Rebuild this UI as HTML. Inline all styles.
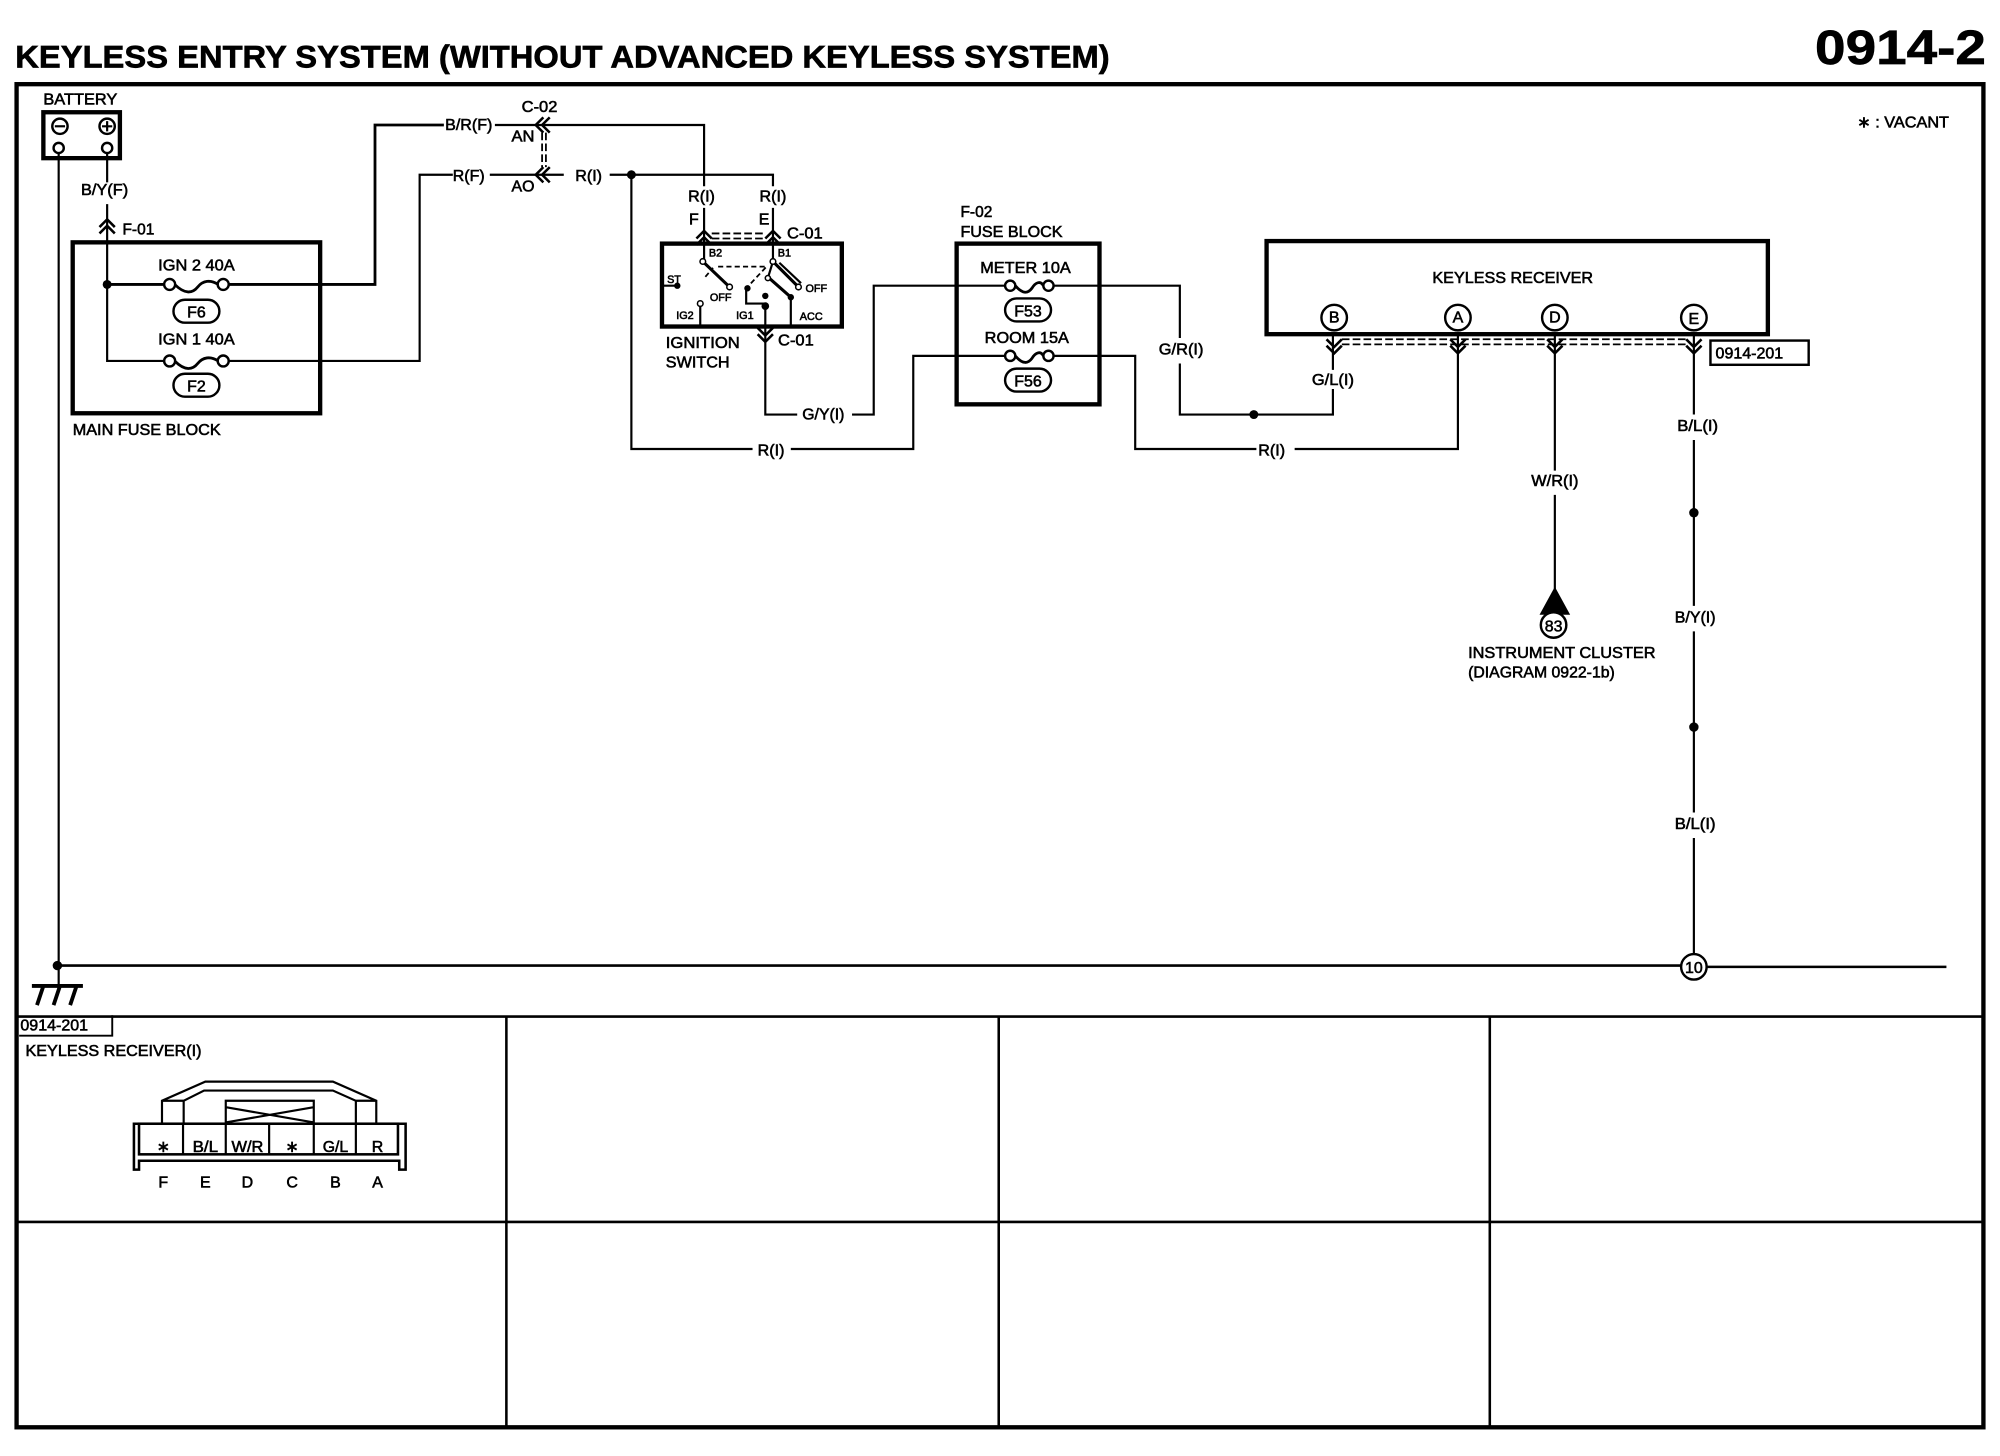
<!DOCTYPE html>
<html><head><meta charset="utf-8"><style>
html,body{margin:0;padding:0;background:#fff;width:2000px;height:1456px;overflow:hidden}
svg{display:block}
text{font-family:"Liberation Sans",sans-serif;font-size:12.5px;fill:#000;stroke:#000;stroke-width:.45px}
.m{text-anchor:middle}
.s{font-size:8.5px}
.w{fill:none;stroke:#000;stroke-width:1.7;stroke-linejoin:miter}
.t{fill:none;stroke:#000;stroke-width:3.4}
.d{fill:none;stroke:#000;stroke-width:1.4;stroke-dasharray:6 2.5}
.c{fill:#fff;stroke:#000;stroke-width:1.9}
.f{fill:#000;stroke:none}
</style></head><body>
<svg width="2000" height="1456" viewBox="0 0 1568 1141.500" xmlns="http://www.w3.org/2000/svg">
<defs>
<g id="fuse"><path class="w" style="stroke-width:2.2" d="M4 0C10 7 14 6 17 2C20 -3 24 -4 26 0"/><circle class="c" cx="0" cy="0" r="4"/><circle class="c" cx="30" cy="0" r="4"/></g>
<g id="fuseb"><path class="w" style="stroke-width:2.2" d="M4 0C12 8 18 7 22 2C26 -3 32 -4 38 0"/><circle class="c" cx="0" cy="0" r="4.300"/><circle class="c" cx="42" cy="0" r="4.300"/></g>
<path id="chu" class="w" style="stroke-width:2" d="M-6 4L0 -2L6 4M-6 9L0 3L6 9"/>
<path id="chd" class="w" style="stroke-width:2" d="M-6 -4L0 2L6 -4M-6 -9L0 -3L6 -9"/>
<path id="chl" class="w" style="stroke-width:2" d="M4 -6L-2 0L4 6M9 -6L3 0L9 6"/>
</defs>

<text x="12" y="53" style="font-size:25px;font-weight:bold;stroke-width:.5px" textLength="858" lengthAdjust="spacingAndGlyphs">KEYLESS ENTRY SYSTEM (WITHOUT ADVANCED KEYLESS SYSTEM)</text>
<text x="1423" y="50" style="font-size:38px;font-weight:bold;stroke-width:.5px" textLength="134" lengthAdjust="spacingAndGlyphs">0914-2</text>

<rect x="13" y="66" width="1542" height="1053" class="t"/>
<path class="w" style="stroke-width:2" d="M13 797H1555M13 958H1555M397 797V1119M783 797V1119M1168 797V1119"/>

<text x="1456" y="100" textLength="72" lengthAdjust="spacingAndGlyphs">∗ : VACANT</text>

<!-- battery -->
<text x="34" y="82" textLength="58" lengthAdjust="spacingAndGlyphs">BATTERY</text>
<rect x="34" y="88" width="60" height="36" class="t"/>
<circle class="c" cx="47" cy="99" r="6"/><path class="w" d="M43 99H51"/>
<circle class="c" cx="84" cy="99" r="6"/><path class="w" d="M80 99H88M84 95V103"/>
<path class="w" d="M46 120V757M84 120V143M84 160V283H130"/>
<circle class="c" cx="46" cy="116" r="4"/><circle class="c" cx="84" cy="116" r="4"/>
<text x="82" y="153" class="m" textLength="37" lengthAdjust="spacingAndGlyphs">B/Y(F)</text>
<use href="#chu" x="84" y="174"/>
<text x="96" y="184" textLength="25" lengthAdjust="spacingAndGlyphs">F-01</text>

<!-- main fuse block -->
<rect x="57" y="190" width="194" height="134" class="t"/>
<text x="154" y="212" class="m" textLength="60" lengthAdjust="spacingAndGlyphs">IGN 2 40A</text>
<text x="154" y="270" class="m" textLength="60" lengthAdjust="spacingAndGlyphs">IGN 1 40A</text>
<path class="w" style="stroke-width:2.2" d="M84 223H130M178 223H294V98H348"/>
<path class="w" d="M388 98H552V146M552 163V204"/>
<path class="w" d="M178 283H329V137H355M384 137H442M478 137H606V146M606 163V205"/>
<circle class="f" cx="84" cy="223" r="3.5"/>
<use href="#fuseb" x="133" y="223"/>
<use href="#fuseb" x="133" y="283"/>
<rect x="136" y="235" width="36" height="18" rx="9" class="c"/><text x="154" y="249" class="m">F6</text>
<rect x="136" y="293" width="36" height="18" rx="9" class="c"/><text x="154" y="307" class="m">F2</text>
<text x="57" y="341" textLength="116" lengthAdjust="spacingAndGlyphs">MAIN FUSE BLOCK</text>

<!-- C-02 -->
<text x="423" y="88" class="m" textLength="28" lengthAdjust="spacingAndGlyphs">C-02</text>
<text x="349" y="102" textLength="37" lengthAdjust="spacingAndGlyphs">B/R(F)</text>
<text x="355" y="142" textLength="25" lengthAdjust="spacingAndGlyphs">R(F)</text>
<text x="451" y="142" textLength="21" lengthAdjust="spacingAndGlyphs">R(I)</text>
<text x="401" y="111" textLength="18" lengthAdjust="spacingAndGlyphs">AN</text>
<text x="401" y="150" textLength="18" lengthAdjust="spacingAndGlyphs">AO</text>
<use href="#chl" x="422" y="98"/><use href="#chl" x="422" y="137"/>
<path class="d" d="M425 104V131M428 104V131"/>
<circle class="f" cx="495" cy="137" r="3.5"/>
<path class="w" d="M495 137V352H590M620 352H716V279H790"/>

<!-- ignition -->
<text x="550" y="158" class="m" textLength="21" lengthAdjust="spacingAndGlyphs">R(I)</text>
<text x="606" y="158" class="m" textLength="21" lengthAdjust="spacingAndGlyphs">R(I)</text>
<text x="544" y="176" class="m">F</text><text x="599" y="176" class="m">E</text>
<text x="617" y="187" textLength="28" lengthAdjust="spacingAndGlyphs">C-01</text>
<use href="#chu" x="552" y="183"/><use href="#chu" x="606" y="183"/>
<path class="d" d="M558 183H600M558 187H600"/>
<rect x="519" y="191" width="141" height="65" class="t"/>
<text x="561" y="201" class="m s">B2</text><text x="615" y="201" class="m s">B1</text>
<text x="523" y="222" class="s">ST</text><text x="565" y="236" class="m s">OFF</text>
<text x="640" y="229" class="m s">OFF</text><text x="537" y="250" class="m s">IG2</text>
<text x="584" y="250" class="m s">IG1</text><text x="636" y="251" class="m s">ACC</text>
<path class="w" d="M520 224H531M549 239V255M620 233V255M585 225V238H599"/>
<path class="w" style="stroke-width:2.4" d="M551 205L572 225M606 205L626 225M603 218L620 233"/>
<path class="w" d="M611 206L628 222M606 205L602 218"/>
<path class="d" style="stroke-dasharray:4 2.5" d="M553 217L559 210M563 209H601L586 225"/>
<g class="c" style="stroke-width:1.2"><circle cx="551" cy="205" r="2.2"/><circle cx="606" cy="205" r="2.2"/><circle cx="572" cy="225" r="2.2"/><circle cx="626" cy="225" r="2.2"/><circle cx="549" cy="238" r="2.2"/><circle cx="602" cy="218" r="2"/></g>
<circle class="f" cx="531" cy="224" r="2.5"/><circle class="f" cx="586" cy="226" r="2.5"/><circle class="f" cx="600" cy="232" r="2.5"/><circle class="f" cx="600" cy="240" r="3"/><circle class="f" cx="620" cy="233" r="2.5"/>
<path class="w" d="M600 240V325H625M668 325H685V224H790"/>
<use href="#chd" x="600" y="266"/>
<text x="610" y="271" textLength="28" lengthAdjust="spacingAndGlyphs">C-01</text>
<text x="522" y="273" textLength="58" lengthAdjust="spacingAndGlyphs">IGNITION</text>
<text x="522" y="288" textLength="50" lengthAdjust="spacingAndGlyphs">SWITCH</text>
<text x="629" y="329" textLength="33" lengthAdjust="spacingAndGlyphs">G/Y(I)</text>
<text x="594" y="357" textLength="21" lengthAdjust="spacingAndGlyphs">R(I)</text>

<!-- F-02 -->
<text x="753" y="170" textLength="25" lengthAdjust="spacingAndGlyphs">F-02</text>
<text x="753" y="186" textLength="80" lengthAdjust="spacingAndGlyphs">FUSE BLOCK</text>
<rect x="750" y="191" width="112" height="126" class="t"/>
<text x="804" y="214" class="m" textLength="71" lengthAdjust="spacingAndGlyphs">METER 10A</text>
<text x="805" y="269" class="m" textLength="66" lengthAdjust="spacingAndGlyphs">ROOM 15A</text>
<use href="#fuse" x="792" y="224"/><use href="#fuse" x="792" y="279"/>
<rect x="788" y="234" width="36" height="18" rx="9" class="c"/><text x="806" y="248" class="m">F53</text>
<rect x="788" y="289" width="36" height="18" rx="9" class="c"/><text x="806" y="303" class="m">F56</text>
<path class="w" d="M826 224H925V265M925 285V325H1045V305M1045 290V262M826 279H890V352H985M1015 352H1143V262"/>
<text x="926" y="278" class="m" textLength="35" lengthAdjust="spacingAndGlyphs">G/R(I)</text>
<circle class="f" cx="983" cy="325" r="3.5"/>
<text x="1045" y="302" class="m" textLength="33" lengthAdjust="spacingAndGlyphs">G/L(I)</text>
<text x="997" y="357" class="m" textLength="21" lengthAdjust="spacingAndGlyphs">R(I)</text>

<!-- keyless receiver -->
<rect x="993" y="189" width="393" height="73" class="t"/>
<text x="1186" y="222" class="m" textLength="126" lengthAdjust="spacingAndGlyphs">KEYLESS RECEIVER</text>
<g class="c"><circle cx="1046" cy="249" r="10"/><circle cx="1143" cy="249" r="10"/><circle cx="1219" cy="249" r="10"/><circle cx="1328" cy="249" r="10"/></g>
<text x="1046" y="253" class="m">B</text><text x="1143" y="253" class="m">A</text><text x="1219" y="253" class="m">D</text><text x="1328" y="254" class="m">E</text>
<use href="#chd" x="1046" y="275"/><use href="#chd" x="1143" y="275"/><use href="#chd" x="1219" y="275"/><use href="#chd" x="1328" y="275"/>
<path class="d" d="M1052 266H1322M1052 270H1322"/>
<path class="w" d="M1219 262V369M1219 388V462M1328 262V325M1328 345V475M1328 495V637M1328 657V748"/>
<rect x="1341" y="267" width="77" height="19" class="c"/>
<text x="1345" y="281" textLength="53" lengthAdjust="spacingAndGlyphs">0914-201</text>
<text x="1219" y="381" class="m" textLength="37" lengthAdjust="spacingAndGlyphs">W/R(I)</text>
<path class="f" d="M1219 460L1207 482H1231Z"/>
<circle class="c" cx="1218" cy="490" r="10"/><text x="1218" y="495" class="m">83</text>
<text x="1151" y="516" textLength="147" lengthAdjust="spacingAndGlyphs">INSTRUMENT CLUSTER</text>
<text x="1151" y="531" textLength="115" lengthAdjust="spacingAndGlyphs">(DIAGRAM 0922-1b)</text>
<text x="1331" y="338" class="m" textLength="32" lengthAdjust="spacingAndGlyphs">B/L(I)</text>
<text x="1329" y="488" class="m" textLength="32" lengthAdjust="spacingAndGlyphs">B/Y(I)</text>
<text x="1329" y="650" class="m" textLength="32" lengthAdjust="spacingAndGlyphs">B/L(I)</text>
<circle class="f" cx="1328" cy="402" r="3.7"/><circle class="f" cx="1328" cy="570" r="3.7"/>

<!-- ground -->
<path class="w" style="stroke-width:2" d="M46 757H1318M1338 758H1526"/>
<circle class="f" cx="45" cy="757" r="3.7"/>
<circle class="c" cx="1328" cy="758" r="10"/><text x="1328" y="763" class="m">10</text>
<path class="w" d="M46 757V773"/>
<path class="w" style="stroke-width:3" d="M25 773H65M34 773L29 788M47 773L42 788M60 773L55 788"/>

<!-- connector panel -->
<path class="w" style="stroke-width:1.5" d="M15 812H88V796"/>
<text x="16" y="808" textLength="53" lengthAdjust="spacingAndGlyphs">0914-201</text>
<text x="20" y="828" textLength="138" lengthAdjust="spacingAndGlyphs">KEYLESS RECEIVER(I)</text>
<path class="w" d="M127 880V863L161 848H261L295 863V880M144 880V863L160 855H261L279 863V880M127 863H144M279 863H295"/>
<path class="w" d="M177 880V863H246V880M177 868L246 880M177 880L246 868"/>
<path class="w" style="stroke-width:2" d="M105 881V917H109V910H313V917H318V881Z"/>
<rect x="109" y="881" width="203" height="24" class="w" style="stroke-width:2"/>
<path class="w" d="M143.500 881V905M177 881V905M211 881V905M246 881V905M279 881V905"/>
<text x="128" y="903" class="m">∗</text><text x="161" y="903" class="m" textLength="20" lengthAdjust="spacingAndGlyphs">B/L</text>
<text x="194" y="903" class="m" textLength="25" lengthAdjust="spacingAndGlyphs">W/R</text><text x="229" y="903" class="m">∗</text>
<text x="263" y="903" class="m" textLength="20" lengthAdjust="spacingAndGlyphs">G/L</text><text x="296" y="903" class="m">R</text>
<text x="128" y="931" class="m">F</text><text x="161" y="931" class="m">E</text><text x="194" y="931" class="m">D</text><text x="229" y="931" class="m">C</text><text x="263" y="931" class="m">B</text><text x="296" y="931" class="m">A</text>
</svg>
</body></html>
